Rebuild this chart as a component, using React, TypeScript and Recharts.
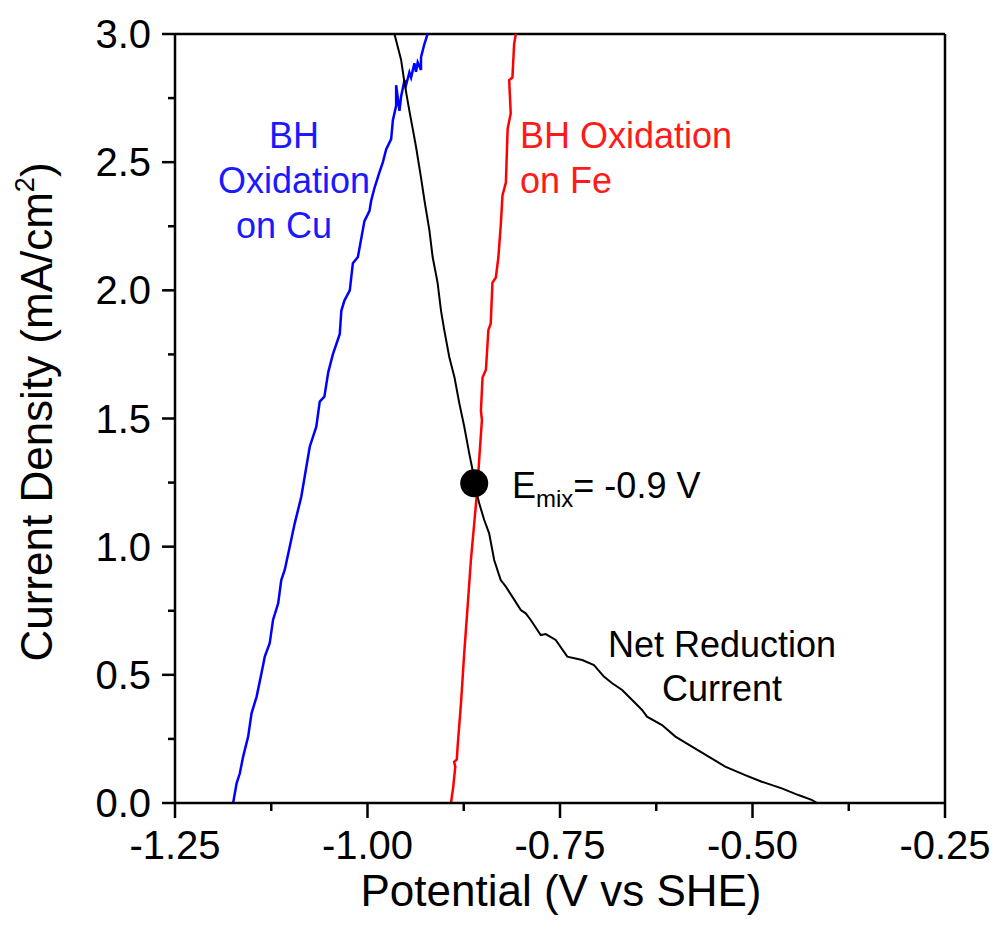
import {
    LineChart, Line, XAxis, YAxis, ReferenceLine, ReferenceDot, Customized
} from "recharts"

// BH oxidation on Cu (blue sweep)
const cuPotential = [
    -1.1745, -1.170, -1.1658, -1.1615, -1.155, -1.1506, -1.144, -1.1377, -1.1334, -1.127,
    -1.1227, -1.116, -1.112, -1.1075, -1.101, -1.0946, -1.088, -1.086, -1.0816, -1.075,
    -1.0665, -1.062, -1.056, -1.051, -1.045, -1.036, -1.034, -1.030, -1.023, -1.019,
    -1.0125, -1.004, -0.9974, -0.9952, -0.9909, -0.9845, -0.980, -0.9758, -0.9693, -0.967,
    -0.9628, -0.9628, -0.9585, -0.9564, -0.952, -0.950, -0.9456, -0.9434, -0.9391, -0.937,
    -0.9348, -0.9305, -0.9305, -0.9262, -0.922,
]
const cuCurrent = [
    0.0, 0.077, 0.116, 0.181, 0.259, 0.35, 0.415, 0.506, 0.571, 0.623,
    0.714, 0.779, 0.87, 0.909, 1.0, 1.09, 1.17, 1.195, 1.273, 1.39,
    1.468, 1.566, 1.585, 1.68, 1.75, 1.83, 1.92, 1.96, 2.0, 2.106,
    2.13, 2.27, 2.31, 2.35, 2.40, 2.46, 2.50, 2.55, 2.59, 2.665,
    2.72, 2.80, 2.70, 2.755, 2.82, 2.80, 2.85, 2.83, 2.886, 2.853,
    2.89, 2.86, 2.91, 2.96, 3.0,
]

// BH oxidation on Fe (red sweep)
const fePotential = [
    -0.8916, -0.8886, -0.886, -0.8875, -0.884, -0.883, -0.8786, -0.8744, -0.870, -0.8657,
    -0.8614, -0.8571, -0.855, -0.8514, -0.8527, -0.8506, -0.8462, -0.843, -0.840, -0.8377,
    -0.8333, -0.830, -0.8268, -0.8247, -0.8203, -0.818, -0.814, -0.816, -0.8118, -0.8096,
    -0.8074,
]
const feCurrent = [
    0.0, 0.064, 0.142, 0.16, 0.17, 0.22, 0.389, 0.584, 0.766, 0.948,
    1.091, 1.234, 1.338, 1.494, 1.53, 1.66, 1.69, 1.845, 1.87, 2.03,
    2.05, 2.13, 2.26, 2.37, 2.42, 2.63, 2.69, 2.82, 2.83, 2.96,
    3.0,
]

// net reduction current (black sweep)
const netPotential = [
    -0.965, -0.9564, -0.952, -0.9456, -0.941, -0.937, -0.9305, -0.926, -0.9197, -0.9154,
    -0.909, -0.9045, -0.9003, -0.8938, -0.887, -0.8808, -0.8743, -0.8679, -0.8636, -0.8614,
    -0.855, -0.8484, -0.842, -0.8355, -0.827, -0.8203, -0.812, -0.8009, -0.7945, -0.788,
    -0.7794, -0.775, -0.7685, -0.7556, -0.7405, -0.7211, -0.7059, -0.693, -0.6822, -0.6693,
    -0.6563, -0.6434, -0.637, -0.6175, -0.6001, -0.5786, -0.557, -0.5354, -0.5095, -0.488,
    -0.462, -0.4404, -0.4232, -0.416,
]
const netCurrent = [
    3.0, 2.90, 2.81, 2.70, 2.626, 2.56, 2.44, 2.35, 2.236, 2.13,
    2.03, 1.92, 1.845, 1.74, 1.66, 1.56, 1.468, 1.364, 1.30, 1.247,
    1.17, 1.104, 1.052, 0.948, 0.87, 0.844, 0.805, 0.753, 0.74, 0.714,
    0.675, 0.655, 0.659, 0.636, 0.571, 0.558, 0.538, 0.493, 0.467, 0.441,
    0.402, 0.363, 0.337, 0.304, 0.259, 0.22, 0.181, 0.142, 0.109, 0.083,
    0.057, 0.031, 0.012, 0.0,
]

const mixedPotential = -0.8614
const mixedCurrent = 1.247

const xTicks = [-1.25, -1.125, -1.0, -0.875, -0.75, -0.625, -0.5, -0.375, -0.25]
const yTicks = [0, 0.25, 0.5, 0.75, 1.0, 1.25, 1.5, 1.75, 2.0, 2.25, 2.5, 2.75, 3.0]

const toPoints = (v: number[], i: number[]) => v.map((p, k) => ({ v: p, i: i[k] }))
const cuData = toPoints(cuPotential, cuCurrent)
const feData = toPoints(fePotential, feCurrent)
const netData = toPoints(netPotential, netCurrent)

const FONT = "'Liberation Sans', Arial, sans-serif"
const AXIS_W = 2.5
const NOTE = 36

const isMajor = (v: number, step: number) => Math.abs(v / step - Math.round(v / step)) < 1e-6

function XTick({ x, y, payload }: any) {
    const major = isMajor(payload.value, 0.25)
    return (
        <g>
            <line x1={x} x2={x} y1={y} y2={y + (major ? 15 : 8)} stroke="#000" strokeWidth={AXIS_W} />
            {major && (
                <text x={x} y={y + 56} textAnchor="middle" fontSize={40} fontFamily={FONT} fill="#000">
                    {payload.value.toFixed(2)}
                </text>
            )}
        </g>
    )
}

function YTick({ x, y, payload }: any) {
    const major = isMajor(payload.value, 0.5)
    return (
        <g>
            <line x1={x - (major ? 13 : 7)} x2={x} y1={y} y2={y} stroke="#000" strokeWidth={AXIS_W} />
            {major && (
                <text x={x - 24} y={y + 14} textAnchor="end" fontSize={40} fontFamily={FONT} fill="#000">
                    {payload.value.toFixed(1)}
                </text>
            )}
        </g>
    )
}

function Annotations() {
    return (
        <g fontFamily={FONT}>
            <text x={52} y={412} transform="rotate(-90 52 412)" textAnchor="middle" fontSize={44} fill="#000">
                Current Density (mA/cm<tspan fontSize={27} dy={-18}>2</tspan><tspan dy={18}>)</tspan>
            </text>
            <text x={561} y={906} textAnchor="middle" fontSize={44} fill="#000">
                Potential (V vs SHE)
            </text>

            <text textAnchor="middle" fontSize={NOTE} fill="#1a1aff">
                <tspan x={294} y={148}>BH</tspan>
                <tspan x={294} y={193}>Oxidation</tspan>
                <tspan x={284} y={238}>on Cu</tspan>
            </text>
            <text fontSize={NOTE} fill="#ff1a1a">
                <tspan x={520} y={148}>BH Oxidation</tspan>
                <tspan x={520} y={193}>on Fe</tspan>
            </text>

            <text x={512} y={498} fontSize={NOTE} fill="#000">
                E<tspan fontSize={24} dy={9}>mix</tspan><tspan dy={-9}>= -0.9 V</tspan>
            </text>

            <text textAnchor="middle" fontSize={NOTE} fill="#000">
                <tspan x={722} y={657}>Net Reduction</tspan>
                <tspan x={722} y={701}>Current</tspan>
            </text>
        </g>
    )
}

export default function App() {
    return (
        <div style={{ position: "absolute", left: 0, top: 0, background: "#fff" }}>
            <LineChart width={997} height={935} margin={{ top: 34, right: 52, bottom: 72, left: 75 }}>
                <XAxis
                    type="number" dataKey="v" domain={[-1.25, -0.25]} ticks={xTicks} interval={0}
                    allowDataOverflow height={60} tickSize={0} tickMargin={0} tickLine={false}
                    axisLine={{ stroke: "#000", strokeWidth: AXIS_W }} tick={<XTick />}
                />
                <YAxis
                    type="number" dataKey="i" domain={[0, 3]} ticks={yTicks} interval={0}
                    allowDataOverflow width={100} tickSize={0} tickMargin={0} tickLine={false}
                    axisLine={{ stroke: "#000", strokeWidth: AXIS_W }} tick={<YTick />}
                />
                <ReferenceLine y={3} stroke="#000" strokeWidth={AXIS_W} />
                <ReferenceLine x={-0.25} stroke="#000" strokeWidth={AXIS_W} />

                <Line data={cuData} dataKey="i" type="linear" stroke="#0000ff" strokeWidth={2.5}
                    dot={false} activeDot={false} isAnimationActive={false} />
                <Line data={feData} dataKey="i" type="linear" stroke="#ff0000" strokeWidth={2.5}
                    dot={false} activeDot={false} isAnimationActive={false} />
                <Line data={netData} dataKey="i" type="linear" stroke="#000" strokeWidth={2}
                    dot={false} activeDot={false} isAnimationActive={false} />

                <ReferenceDot x={mixedPotential} y={mixedCurrent} r={14} fill="#000" stroke="none" />
                <Customized component={Annotations} />
            </LineChart>
        </div>
    )
}
